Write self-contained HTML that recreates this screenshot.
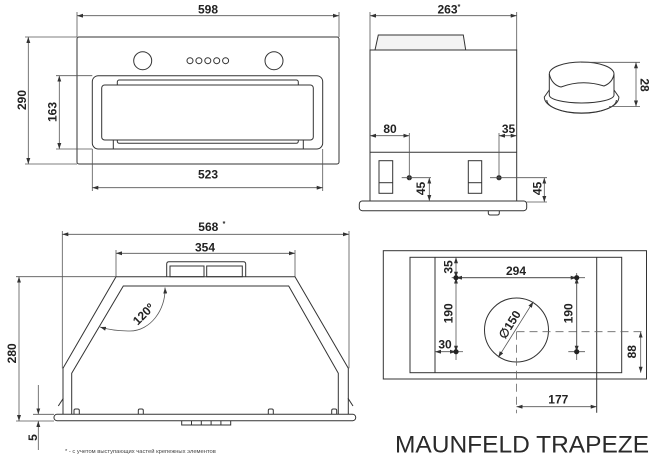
<!DOCTYPE html>
<html><head><meta charset="utf-8"><style>
html,body{margin:0;padding:0;background:#fff;}
svg{display:block;}
text{font-family:"Liberation Sans",Arial,sans-serif;}
.d{font-weight:bold;font-size:12px;fill:#222;text-anchor:middle;}
.m{fill:none;stroke:#333;stroke-width:1;}
.w{fill:#fff;stroke:#333;stroke-width:1;}
.l{fill:none;stroke:#555;stroke-width:0.8;}
.a{fill:none;stroke:#555;stroke-width:0.8;marker-start:url(#ar);marker-end:url(#ar);}
.e{fill:none;stroke:#555;stroke-width:0.8;marker-end:url(#ar);}
.dash{fill:none;stroke:#666;stroke-width:0.8;stroke-dasharray:8,5;}
</style></head><body>
<svg width="655" height="459" viewBox="0 0 655 459" xmlns="http://www.w3.org/2000/svg">
<defs>
<marker id="ar" viewBox="0 0 6 4" refX="6" refY="2" markerWidth="6" markerHeight="4" orient="auto-start-reverse" markerUnits="userSpaceOnUse">
<path d="M0,0 L6,2 L0,4 z" fill="#333"/>
</marker>
</defs>

<!-- ============ FRONT VIEW ============ -->
<line class="a" x1="77" y1="15.7" x2="339" y2="15.7"/>
<line class="l" x1="77" y1="12" x2="77" y2="37"/>
<line class="l" x1="339" y1="12" x2="339" y2="37"/>
<text class="d" x="208" y="13.5">598</text>

<rect class="m" x="77" y="37" width="262" height="127" rx="2"/>
<line class="a" x1="28.3" y1="37" x2="28.3" y2="164"/>
<line class="l" x1="25" y1="37" x2="77" y2="37"/>
<line class="l" x1="25" y1="164" x2="77" y2="164"/>
<text class="d" transform="translate(21.5,100) rotate(-90)" dy="0.36em">290</text>

<circle class="m" cx="142.7" cy="60.7" r="9"/>
<circle class="m" cx="274" cy="60.7" r="9"/>
<circle class="m" cx="190" cy="60.7" r="3"/>
<circle class="m" cx="198.9" cy="60.7" r="3"/>
<circle class="m" cx="207.8" cy="60.7" r="3"/>
<circle class="m" cx="216.7" cy="60.7" r="3"/>
<circle class="m" cx="225.6" cy="60.7" r="3"/>

<rect class="w" x="92.3" y="75.7" width="230.4" height="73.3" rx="6"/>
<rect class="w" x="117.3" y="80" width="181" height="12" rx="2"/>
<rect class="w" x="117.3" y="131.3" width="181" height="12" rx="2"/>
<rect class="w" x="101.7" y="85" width="211.6" height="55" rx="3"/>
<line class="m" x1="113.3" y1="140" x2="113.3" y2="149"/>
<line class="m" x1="303.3" y1="140" x2="303.3" y2="149"/>

<line class="a" x1="59.3" y1="75.7" x2="59.3" y2="149"/>
<line class="l" x1="56" y1="75.7" x2="92.3" y2="75.7"/>
<line class="l" x1="56" y1="149" x2="92.3" y2="149"/>
<text class="d" transform="translate(52,112) rotate(-90)" dy="0.36em">163</text>

<line class="a" x1="92.3" y1="187.7" x2="322.7" y2="187.7"/>
<line class="l" x1="92.3" y1="149" x2="92.3" y2="191"/>
<line class="l" x1="322.7" y1="149" x2="322.7" y2="191"/>
<text class="d" x="208" y="178.3">523</text>

<!-- ============ SIDE VIEW ============ -->
<line class="a" x1="370" y1="15.7" x2="516.7" y2="15.7"/>
<line class="l" x1="370" y1="12" x2="370" y2="50"/>
<line class="l" x1="516.7" y1="12" x2="516.7" y2="50"/>
<text class="d" x="447.5" y="13.5">263</text>
<text x="459" y="9" style="font-size:7px;font-weight:bold;fill:#222;text-anchor:middle;">*</text>

<polygon points="378.3,35 463.3,35 465.7,50 375,50" fill="#f3f3f3" stroke="#333" stroke-width="1"/>
<rect class="m" x="370" y="50" width="146.7" height="151"/>
<line class="m" x1="370" y1="152.3" x2="516.7" y2="152.3"/>
<path class="w" d="M488.3,209 V213 Q488.3,215 490.3,215 H497.3 Q499.3,215 499.3,213 V209"/>
<rect class="w" x="359.3" y="201" width="167.4" height="9.7" rx="3"/>

<rect class="m" x="379" y="160.7" width="13.7" height="32.6"/>
<line class="m" x1="379" y1="182.7" x2="392.7" y2="182.7"/>
<rect class="m" x="468.3" y="160.7" width="13.4" height="32.6"/>
<line class="m" x1="468.3" y1="182.7" x2="481.7" y2="182.7"/>

<circle cx="409.3" cy="177.7" r="2.6" fill="#222"/>
<circle cx="499" cy="177.7" r="2.6" fill="#222"/>

<line class="a" x1="370" y1="135.7" x2="409.3" y2="135.7"/>
<line class="l" x1="409.3" y1="133" x2="409.3" y2="180"/>
<line class="l" x1="401.7" y1="177.7" x2="431" y2="177.7"/>
<text class="d" x="390" y="132.8">80</text>
<line class="a" x1="429.3" y1="177.7" x2="429.3" y2="201"/>
<text class="d" transform="translate(420.7,188.5) rotate(-90)" dy="0.36em">45</text>

<line class="a" x1="499" y1="135.7" x2="516.7" y2="135.7"/>
<line class="l" x1="499" y1="133" x2="499" y2="180"/>
<line class="l" x1="490" y1="177.7" x2="547" y2="177.7"/>
<text class="d" x="508.5" y="132.8">35</text>
<line class="a" x1="544.3" y1="177.7" x2="544.3" y2="202"/>
<line class="l" x1="526.7" y1="202" x2="547" y2="202"/>
<text class="d" transform="translate(537.3,188.5) rotate(-90)" dy="0.36em">45</text>

<!-- ============ RING ============ -->
<path class="w" d="M544.3,97 A37.3,16.3 0 0 0 618.9,97 L614,90 L549.3,90 Z"/>
<path class="m" d="M546.8,100 A34.8,13 0 0 0 616.4,100"/>
<path class="w" d="M549.3,74 V95 A32.3,8 0 0 0 614,95 V74"/>
<path class="m" d="M549.3,74 A32.3,12 0 0 1 614,74"/>
<path class="m" d="M549.3,74 C551,82 556,86 561,87 Q582,79 604,86 C609,84 613,80 614,74"/>
<line class="a" x1="636" y1="62.3" x2="636" y2="106.5"/>
<line class="l" x1="581" y1="62.3" x2="640" y2="62.3"/>
<line class="l" x1="609" y1="106.5" x2="640" y2="106.5"/>
<text class="d" transform="translate(645,85) rotate(90)" dy="0.36em">28</text>

<!-- ============ BOTTOM-LEFT TRAPEZOID ============ -->
<line class="a" x1="62.3" y1="234.3" x2="349" y2="234.3"/>
<line class="l" x1="62.3" y1="231" x2="62.3" y2="368.3"/>
<line class="l" x1="349" y1="231" x2="349" y2="368.3"/>
<text class="d" x="208.3" y="231">568</text>
<text x="224" y="226" style="font-size:7px;font-weight:bold;fill:#222;text-anchor:middle;">*</text>

<line class="a" x1="116" y1="253.3" x2="295" y2="253.3"/>
<line class="l" x1="116" y1="250" x2="116" y2="276.7"/>
<line class="l" x1="295" y1="250" x2="295" y2="276.7"/>
<text class="d" x="205" y="251.3">354</text>

<path class="m" d="M166.7,276.7 V264 Q166.7,261.7 169,261.7 H243.4 Q245.7,261.7 245.7,264 V276.7"/>
<rect class="m" x="170" y="266" width="34" height="10.7"/>
<rect class="m" x="206.7" y="266" width="35.6" height="10.7"/>

<path class="m" d="M63,414.3 V368.3 L116,276.7 H295 L348.3,368.3 V414.3"/>
<path class="m" d="M71.7,414.3 V373.3 L123.3,286 H288.7 L338.3,373.3 V414.3"/>
<line class="m" x1="58.3" y1="406" x2="63.3" y2="398.3"/>
<line class="m" x1="353" y1="406" x2="348" y2="398.3"/>

<path class="m" d="M74,414.3 V410.5 Q74,409 75.5,409 H77.8 Q79.3,409 79.3,410.5 V414.3"/>
<path class="m" d="M138.3,414.3 V410.5 Q138.3,409 139.8,409 H141.8 Q143.3,409 143.3,410.5 V414.3"/>
<path class="m" d="M268.3,414.3 V410.5 Q268.3,409 269.8,409 H271.8 Q273.3,409 273.3,410.5 V414.3"/>
<path class="m" d="M331.7,414.3 V410.5 Q331.7,409 333.2,409 H335.2 Q336.7,409 336.7,410.5 V414.3"/>

<rect class="w" x="54" y="414.3" width="301.7" height="6.4" rx="3"/>
<path class="m" d="M181.7,420.7 V425 H191.5 V420.7 M191.5,425 H201.3 V420.7 M201.3,425 H211.1 V420.7 M211.1,425 H220.9 V420.7 M220.9,425 H230.7 V420.7"/>

<path class="a" d="M165,287.5 C166,310 150,331 130,331 C118,331 108,329.5 100,327"/>
<text class="d" transform="translate(143.3,314) rotate(-45)" dy="0.36em">120º</text>

<line class="a" x1="19" y1="276.7" x2="19" y2="421"/>
<line class="l" x1="16" y1="276.7" x2="116" y2="276.7"/>
<line class="l" x1="16" y1="421" x2="54" y2="421"/>
<text class="d" transform="translate(11.5,353.3) rotate(-90)" dy="0.36em">280</text>

<line class="e" x1="38.3" y1="385" x2="38.3" y2="414.3"/>
<line class="e" x1="38.3" y1="450" x2="38.3" y2="421"/>
<line class="l" x1="33" y1="414.3" x2="54" y2="414.3"/>
<text class="d" transform="translate(32.5,437.5) rotate(-90)" dy="0.36em">5</text>

<text x="65" y="453" style="font-size:5.8px;fill:#444;">* - с учетом выступающих частей крепежных элементов</text>

<!-- ============ TOP VIEW ============ -->
<rect class="m" x="383.3" y="250.7" width="263.2" height="128.3"/>
<rect class="m" x="410" y="257.3" width="211.7" height="115.4"/>
<line class="m" x1="435" y1="257.3" x2="435" y2="372.7"/>
<line class="m" x1="596.7" y1="257.3" x2="596.7" y2="412.7"/>

<circle class="m" cx="516.5" cy="330" r="32"/>
<line class="dash" x1="516.5" y1="331.7" x2="645" y2="331.7"/>
<line class="dash" x1="516.5" y1="331.7" x2="516.5" y2="413.3"/>
<line class="a" x1="533.3" y1="301.7" x2="498.3" y2="357.3"/>
<text class="d" transform="translate(509.5,324.5) rotate(-58)" dy="0.36em">∅150</text>

<line class="a" x1="456" y1="257.3" x2="456" y2="277.7"/>
<line class="a" x1="456" y1="277.7" x2="456" y2="351.7"/>
<line class="l" x1="456" y1="351.7" x2="456" y2="360"/>
<line class="l" x1="451.7" y1="277.7" x2="585" y2="277.7"/>
<line class="a" x1="456" y1="277.7" x2="576.7" y2="277.7"/>
<line class="l" x1="576.7" y1="273" x2="576.7" y2="360"/>
<line class="a" x1="576.7" y1="277.7" x2="576.7" y2="351.7"/>
<line class="l" x1="568.3" y1="351.7" x2="585" y2="351.7"/>
<line class="l" x1="456" y1="351.7" x2="463" y2="351.7"/>
<line class="a" x1="435" y1="351.7" x2="456" y2="351.7"/>

<circle cx="456" cy="277.7" r="2.6" fill="#222"/>
<circle cx="576.7" cy="277.7" r="2.6" fill="#222"/>
<circle cx="456" cy="351.7" r="2.6" fill="#222"/>
<circle cx="576.7" cy="351.7" r="2.6" fill="#222"/>

<text class="d" x="516" y="275">294</text>
<text class="d" transform="translate(448.3,267) rotate(-90)" dy="0.36em">35</text>
<text class="d" transform="translate(448.3,313.3) rotate(-90)" dy="0.36em">190</text>
<text class="d" x="445" y="348.3">30</text>
<text class="d" transform="translate(568.3,313.3) rotate(-90)" dy="0.36em">190</text>

<line class="a" x1="640.7" y1="331.7" x2="640.7" y2="372.7"/>
<text class="d" transform="translate(631.7,351.7) rotate(-90)" dy="0.36em">88</text>

<line class="a" x1="516.5" y1="406.7" x2="596.7" y2="406.7"/>
<text class="d" x="558.3" y="403.6">177</text>

<text x="395" y="452.7" style="font-size:24.5px;fill:#2a2a2a;">MAUNFELD TRAPEZE</text>
</svg>
</body></html>
